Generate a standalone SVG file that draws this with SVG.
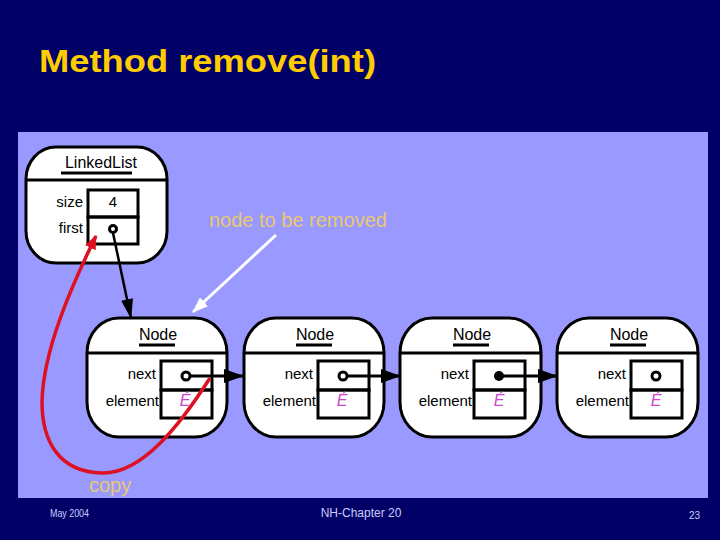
<svg xmlns="http://www.w3.org/2000/svg" width="720" height="540" viewBox="0 0 720 540">
<defs>
<style>
.box{fill:#fff;stroke:#000;stroke-width:3}
.fld{fill:none;stroke:#000;stroke-width:3}
.t{font-family:"Liberation Sans",Arial,sans-serif;font-size:15px;fill:#000}
.h{font-family:"Liberation Sans",Arial,sans-serif;font-size:16px;fill:#000;text-anchor:middle}
.e{font-family:"Liberation Sans",Arial,sans-serif;font-size:16px;fill:#CC44CC;font-style:italic;text-anchor:middle}
.ul{stroke:#000;stroke-width:3}
.ptr{fill:#fff;stroke:#000;stroke-width:3}
.nx{stroke:#000;stroke-width:3;fill:none;marker-end:url(#ah)}
.lbl{font-family:"Liberation Sans",Arial,sans-serif;font-size:20px;fill:#E8C870}
.ft{font-family:"Liberation Sans",Arial,sans-serif;fill:#CCCCFF}
</style>
<marker id="ah" markerUnits="userSpaceOnUse" markerWidth="20" markerHeight="14" refX="19" refY="7" orient="auto">
<path d="M0,0 L20,7 L0,14 Z" fill="#000"/>
</marker>
<marker id="ahb" markerUnits="userSpaceOnUse" markerWidth="20" markerHeight="12" refX="19" refY="6" orient="auto">
<path d="M0,0 L20,6 L0,12 Z" fill="#000"/>
</marker>
<marker id="ahw" markerUnits="userSpaceOnUse" markerWidth="16" markerHeight="12" refX="15" refY="6" orient="auto">
<path d="M0,0 L16,6 L0,12 Z" fill="#fff"/>
</marker>
<marker id="ahr" markerUnits="userSpaceOnUse" markerWidth="14" markerHeight="12" refX="13" refY="6" orient="auto">
<path d="M0,0 L14,6 L0,12 Z" fill="#DD1122"/>
</marker>
</defs>
<rect x="0" y="0" width="720" height="540" fill="#000066"/>
<text x="39" y="72" font-family="'Comic Sans MS','Liberation Sans',sans-serif" font-size="32" font-weight="bold" fill="#FFCC00" textLength="337" lengthAdjust="spacingAndGlyphs">Method remove(int)</text>
<rect x="18" y="132" width="690" height="366" fill="#9999FF"/>

<g id="linkedlist">
<rect class="box" x="26" y="147" width="141" height="116" rx="30" ry="32"/>
<line class="ul" x1="26" y1="180" x2="167" y2="180"/>
<text class="h" x="101" y="168" font-size="17">LinkedList</text>
<line class="ul" x1="61" y1="173" x2="132" y2="173"/>
<rect class="fld" x="88" y="190" width="50" height="27"/>
<rect class="fld" x="88" y="217" width="50" height="27"/>
<text class="t" x="83" y="207" text-anchor="end">size</text>
<text class="t" x="83" y="233" text-anchor="end">first</text>
<text class="t" x="113" y="207" text-anchor="middle">4</text>
<circle class="ptr" cx="113" cy="229" r="3.5"/>
</g>

<g id="node1">
<rect class="box" x="87" y="318" width="140" height="119" rx="32" ry="35"/>
<line class="ul" x1="87" y1="353" x2="227" y2="353"/>
<text class="h" x="158" y="340">Node</text>
<line class="ul" x1="139" y1="345" x2="175" y2="345"/>
<rect class="fld" x="161" y="361" width="51" height="29"/>
<rect class="fld" x="161" y="390" width="51" height="28"/>
<text class="t" x="156" y="379" text-anchor="end">next</text>
<text class="t" x="159" y="406" text-anchor="end">element</text>
<text class="e" x="185" y="406">É</text>
<circle class="ptr" cx="186" cy="376" r="4"/>
</g>

<g id="node2">
<rect class="box" x="244" y="318" width="140" height="119" rx="32" ry="35"/>
<line class="ul" x1="244" y1="353" x2="384" y2="353"/>
<text class="h" x="315" y="340">Node</text>
<line class="ul" x1="296" y1="345" x2="332" y2="345"/>
<rect class="fld" x="318" y="361" width="51" height="29"/>
<rect class="fld" x="318" y="390" width="51" height="28"/>
<text class="t" x="313" y="379" text-anchor="end">next</text>
<text class="t" x="316" y="406" text-anchor="end">element</text>
<text class="e" x="342" y="406">É</text>
<circle class="ptr" cx="343" cy="376" r="4"/>
</g>

<g id="node3">
<rect class="box" x="400" y="318" width="141" height="119" rx="32" ry="35"/>
<line class="ul" x1="400" y1="353" x2="541" y2="353"/>
<text class="h" x="472" y="340">Node</text>
<line class="ul" x1="453" y1="345" x2="489" y2="345"/>
<rect class="fld" x="474" y="361" width="51" height="29"/>
<rect class="fld" x="474" y="390" width="51" height="28"/>
<text class="t" x="469" y="379" text-anchor="end">next</text>
<text class="t" x="472" y="406" text-anchor="end">element</text>
<text class="e" x="499" y="406">É</text>
<circle cx="499" cy="376" r="5" fill="#000"/>
</g>

<g id="node4">
<rect class="box" x="557" y="318" width="141" height="119" rx="32" ry="35"/>
<line class="ul" x1="557" y1="353" x2="698" y2="353"/>
<text class="h" x="629" y="340">Node</text>
<line class="ul" x1="610" y1="345" x2="646" y2="345"/>
<rect class="fld" x="631" y="361" width="51" height="29"/>
<rect class="fld" x="631" y="390" width="51" height="28"/>
<text class="t" x="626" y="379" text-anchor="end">next</text>
<text class="t" x="629" y="406" text-anchor="end">element</text>
<text class="e" x="656" y="406">É</text>
<circle class="ptr" cx="656" cy="376" r="4"/>
</g>

<g id="connectors">
<line x1="113" y1="233" x2="131" y2="318" stroke="#000" stroke-width="2.5" marker-end="url(#ahb)"/>
<line class="nx" x1="190" y1="376" x2="243" y2="376"/>
<line class="nx" x1="347" y1="376" x2="400" y2="376"/>
<line class="nx" x1="503" y1="376" x2="557" y2="376"/>
<line x1="276" y1="235" x2="193" y2="312" stroke="#fff" stroke-width="3" marker-end="url(#ahw)"/>
<path d="M210,378 C180,425 142,474 102,473 C58,472 42,440 42,402 C43,350 72,285 96,236" fill="none" stroke="#DD1122" stroke-width="3.5" marker-end="url(#ahr)"/>
</g>

<text class="lbl" x="209" y="227">node to be removed</text>
<text class="lbl" x="89" y="492" font-size="19">copy</text>

<text class="ft" x="50" y="517" font-size="10" textLength="39" lengthAdjust="spacingAndGlyphs">May 2004</text>
<text class="ft" x="361" y="517" font-size="12" text-anchor="middle">NH-Chapter 20</text>
<text class="ft" x="700" y="519" font-size="10" text-anchor="end">23</text>
</svg>
